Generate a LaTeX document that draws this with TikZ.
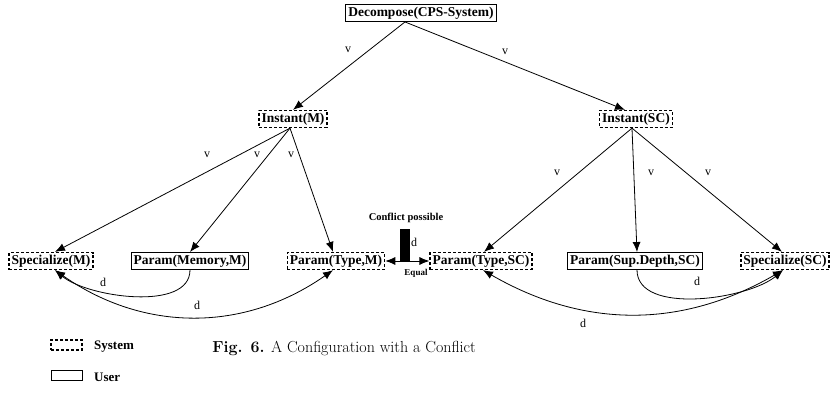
\documentclass[tikz,border=0pt]{standalone}
\usepackage{fontspec}
\newfontfamily\tnr{Liberation Serif}
\usetikzlibrary{arrows.meta}
\begin{document}
\begin{tikzpicture}[x=1pt,y=-1pt,
  box/.style={draw,line width=0.9pt,inner xsep=2.5pt,inner ysep=1pt,minimum height=17pt,
    font=\tnr\bfseries\fontsize{13.5}{14}\selectfont},
  sysbox/.style={box,line width=1.3pt,dash pattern=on 3pt off 2pt},
  userbox/.style={box},
  edge/.style={line width=0.8pt,-{Latex[length=10pt,width=8pt]}},
  dedge/.style={line width=0.8pt,{Latex[length=10pt,width=8pt]}-{Latex[length=10pt,width=8pt]}},
  lab/.style={font=\tnr\fontsize{12}{13}\selectfont,inner sep=0pt},
  smallb/.style={font=\tnr\bfseries\fontsize{10.5}{11}\selectfont,inner sep=0pt},
  legb/.style={font=\tnr\bfseries\fontsize{13}{14}\selectfont,inner sep=0pt}]
\useasboundingbox (0,0) rectangle (831,396);

\node[userbox] (top) at (421,13) {Decompose(CPS-System)};
\node[sysbox] (instM) at (293,119) {Instant(M)};
\node[sysbox] (instSC) at (636,119) {Instant(SC)};
\node[sysbox] (specM) at (51,261) {Specialize(M)};
\node[userbox] (memM) at (190,261) {Param(Memory,M)};
\node[sysbox] (typeM) at (336,261) {Param(Type,M)};
\node[sysbox] (typeSC) at (481,261) {Param(Type,SC)};
\node[userbox] (supSC) at (635,261) {Param(Sup.Depth,SC)};
\node[sysbox] (specSC) at (785,261) {Specialize(SC)};

\coordinate (ts) at ([xshift=-16pt]top.south);
\coordinate (ms) at ([xshift=-3pt]instM.south);
\coordinate (ss) at ([xshift=-4pt]instSC.south);

\draw[edge] (ts) -- ([xshift=0pt]instM.north);
\draw[edge] (ts) -- ([xshift=-11pt]instSC.north);
\node[lab] at (348,50) {v};
\node[lab] at (505,52) {v};

\draw[edge] (ms) -- ([xshift=4pt]specM.north);
\draw[edge] (ms) -- (memM.north);
\draw[edge] (ms) -- ([xshift=-3pt]typeM.north);
\node[lab] at (207,155) {v};
\node[lab] at (257,155) {v};
\node[lab] at (291,155) {v};

\draw[edge] (ss) -- ([xshift=3pt]typeSC.north);
\draw[edge] (ss) -- ([xshift=2pt]supSC.north);
\draw[edge] (ss) -- ([xshift=-3pt]specSC.north);
\node[lab] at (557,173) {v};
\node[lab] at (651,173) {v};
\node[lab] at (708,173) {v};

\draw[edge] (memM.south) to[out=-90,in=-40,looseness=0.8] ([xshift=4pt]specM.south);
\draw[dedge] ([xshift=4pt]specM.south) to[out=-35,in=-145] ([xshift=-3pt]typeM.south);
\node[lab] at (103,282) {d};
\node[lab] at (197,305) {d};

\draw[edge] ([xshift=2pt]supSC.south) to[out=-90,in=-140,looseness=0.8] ([xshift=-2pt]specSC.south);
\draw[dedge] ([xshift=2pt]typeSC.south) to[out=-30,in=-150] ([xshift=-2pt]specSC.south);
\node[lab] at (697,281) {d};
\node[lab] at (583,323) {d};

\draw[dedge] (typeM.east) -- (typeSC.west);
\node[fill=black,draw=black,inner sep=0pt,minimum width=9pt,minimum height=32pt,anchor=south] (blk) at (404.5,261) {};
\node[smallb] (cp) at (406,218) {Conflict possible};
\node[lab] at (414,242) {d};
\node[font=\tnr\bfseries\fontsize{9}{10}\selectfont,inner sep=0pt] (eq) at (416,273) {Equal};

\node[draw,line width=1.1pt,dash pattern=on 3pt off 2pt,minimum width=31pt,minimum height=10pt,inner sep=0pt] (lsys) at (66.5,345) {};
\node[draw,line width=0.8pt,minimum width=31pt,minimum height=10pt,inner sep=0pt] (luser) at (66.5,375) {};
\node[legb,anchor=west] at (94,347) {System};
\node[legb,anchor=west] at (94,377) {User};

\node[inner sep=0pt,font=\fontsize{16}{18}\selectfont] (cap) at (344,348) {\textbf{Fig. 6.} A Configuration with a Conflict};
\end{tikzpicture}
\end{document}
